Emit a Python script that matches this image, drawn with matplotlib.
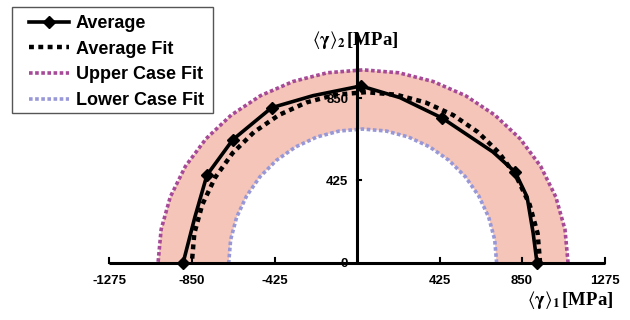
"""
Average / fitted boundary plot in the (gamma1, gamma2) plane.
Saves out.png (630x320).
"""
import matplotlib.pyplot as plt
from matplotlib.patches import Rectangle

avg_x = [-896, -835, -773, -640, -440, -227, 20, 221, 438, 700, 814, 876, 907, 927]
avg_y = [0, 237, 453, 635, 800, 862, 912, 852, 747, 572, 469, 340, 155, 0]
avg_marks = [0, 2, 3, 4, 6, 8, 10, 13]

# Fit curves, read at 10 degree steps from right (0 deg) to left (180 deg)
avgfit_x = [943, 930, 889, 823, 733, 623, 495, 353, 202, 46,
            -110, -261, -403, -531, -641, -731, -797, -838, -851]
avgfit_y = [0, 153, 301, 440, 566, 674, 762, 827, 867, 880,
            867, 827, 762, 674, 566, 440, 301, 153, 0]

upper_x = [1087, 1071, 1024, 946, 840, 710, 559, 392, 215, 31,
           -153, -330, -497, -648, -778, -884, -962, -1009, -1025]
upper_y = [0, 173, 340, 498, 640, 762, 862, 935, 980, 995,
           980, 935, 862, 762, 640, 498, 340, 173, 0]

lower_x = [719, 709, 678, 627, 558, 473, 374, 265, 149, 29,
           -91, -207, -316, -415, -500, -569, -620, -651, -661]
lower_y = [0, 120, 236, 345, 444, 529, 598, 649, 680, 690,
           680, 649, 598, 529, 444, 345, 236, 120, 0]

x_ticks = [-1275, -850, -425, 425, 850, 1275]
y_ticks = [0, 425, 850]

plt.rcParams['mathtext.fontset'] = 'stix'

fig = plt.figure(figsize=(6.3, 3.2), dpi=100)
ax = fig.add_axes([0, 0, 1, 1])
ax.set_xlim(-1839, 1406)
ax.set_ylim(-294, 1355)

# band between the upper and lower case fits
band_x = upper_x + lower_x[::-1]
band_y = upper_y + lower_y[::-1]
ax.fill(band_x, band_y, color='#f4c5b8', lw=0, zorder=1)

ax.plot(avgfit_x, avgfit_y, color='black', lw=3.2, ls=(0, (1.1, 1.0)),
        label='Average Fit', zorder=4)
ax.plot(upper_x, upper_y, color='#a64a98', lw=2.6, ls=(0, (1.0, 0.7)),
        label='Upper Case Fit', zorder=3)
ax.plot(lower_x, lower_y, color='#9898d8', lw=2.6, ls=(0, (1.0, 0.7)),
        label='Lower Case Fit', zorder=3)
ax.plot(avg_x, avg_y, color='black', lw=2.6, marker='D', ms=6,
        markevery=avg_marks, label='Average', zorder=5)

# axes drawn through the origin
ax.plot([-1275, 1275], [0, 0], color='black', lw=2.2, zorder=6,
        solid_capstyle='butt')
ax.plot([0, 0], [0, 1185], color='black', lw=2.2, zorder=6,
        solid_capstyle='butt')
for t in x_ticks:
    ax.plot([t, t], [0, 25], color='black', lw=1.5, zorder=6)
    ax.text(t, -95, str(t), ha='center', va='center', fontsize=9.5,
            fontweight='bold', family='Liberation Sans')
for t in y_ticks[1:]:
    ax.plot([0, 22], [t, t], color='black', lw=1.5, zorder=6)
for t in y_ticks:
    ax.text(-45, t - 8, str(t), ha='right', va='center', fontsize=9.5,
            fontweight='bold', family='Liberation Sans', zorder=7)

ax.text(-10, 1150, r'$\langle\mathbf{\gamma}\rangle_\mathbf{2}\,$[MPa]',
        ha='center', va='center', fontsize=13.5, fontweight='bold',
        family='Liberation Serif')
ax.text(1100, -190, r'$\langle\mathbf{\gamma}\rangle_\mathbf{1}\,$[MPa]',
        ha='center', va='center', fontsize=13.5, fontweight='bold',
        family='Liberation Serif')

ax.axis('off')

# legend frame drawn separately so the padding can match the original
ax.add_patch(Rectangle((12 / 630, 1 - 113 / 320), 201 / 630, 106 / 320,
                       transform=fig.transFigure, facecolor='white',
                       edgecolor='#555555', lw=1.0, zorder=8, clip_on=False))

handles, labels = ax.get_legend_handles_labels()
order = [3, 0, 1, 2]
leg = ax.legend([handles[i] for i in order], [labels[i] for i in order],
                loc='upper left', bbox_to_anchor=(29 / 630, 1 - 15 / 320),
                borderaxespad=0, borderpad=0, frameon=False,
                prop={'family': 'Liberation Sans', 'weight': 'bold', 'size': 13},
                handlelength=2.2, handletextpad=0.4, labelspacing=0.48)
leg.set_zorder(9)

fig.savefig('out.png', dpi=100)
